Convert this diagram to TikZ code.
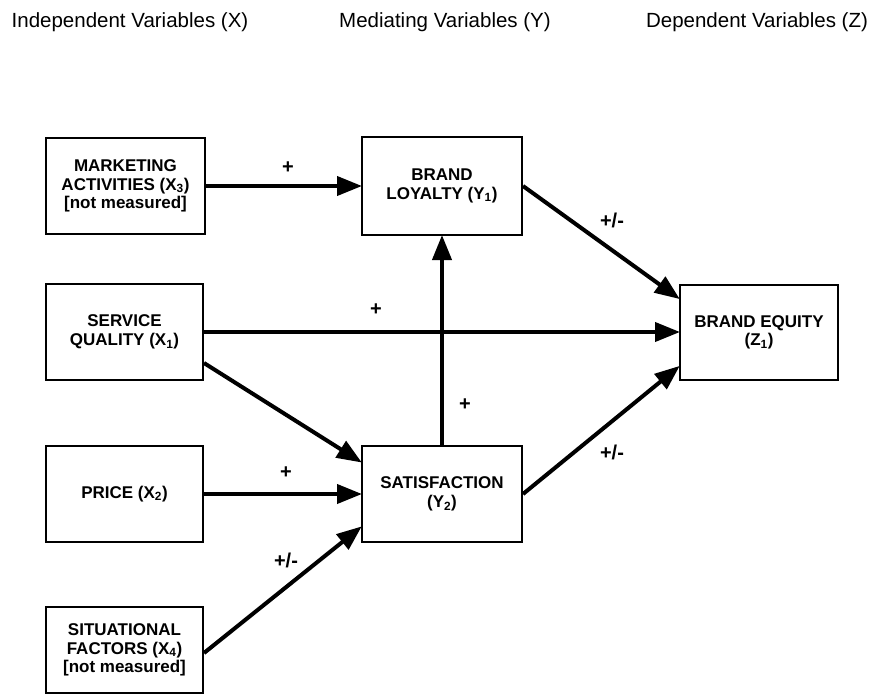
\documentclass[tikz,border=0pt]{standalone}
\usepackage{fontspec}
\setmainfont{Liberation Sans}
\usetikzlibrary{arrows.meta}
\tikzset{
  x=1pt,y=-1pt,
  varbox/.style={draw,line width=2pt,rectangle,align=center,inner sep=2pt,
    font=\fontsize{17}{18.5}\selectfont\bfseries},
  link/.style={line width=4pt,-{Triangle[length=25pt,width=19pt]},shorten >=-1pt},
  sign/.style={font=\fontsize{20}{22}\selectfont\bfseries},
  header/.style={font=\fontsize{20.5}{22}\selectfont}
}
\begin{document}
\begin{tikzpicture}
\useasboundingbox (0,0) rectangle (871,697);
\node[header] (h1) at (130,22) {Independent Variables (X)};
\node[header] (h2) at (445,22) {Mediating Variables (Y)};
\node[header] (h3) at (757,22) {Dependent Variables (Z)};

\node[varbox,minimum width=159pt,minimum height=96pt] (mk) at (125.5,186) {MARKETING\\ACTIVITIES (X\textsubscript{3})\\{[not measured]}};
\node[varbox,minimum width=157pt,minimum height=96pt] (sq) at (124.5,332) {SERVICE\\QUALITY (X\textsubscript{1})};
\node[varbox,minimum width=157pt,minimum height=96pt] (pr) at (124.5,494) {PRICE (X\textsubscript{2})};
\node[varbox,minimum width=157pt,minimum height=86pt] (sit) at (124.5,650) {SITUATIONAL\\FACTORS (X\textsubscript{4})\\{[not measured]}};
\node[varbox,minimum width=160pt,minimum height=98pt] (bl) at (442,186) {BRAND\\LOYALTY (Y\textsubscript{1})};
\node[varbox,minimum width=160pt,minimum height=96pt] (sat) at (442,494) {SATISFACTION\\(Y\textsubscript{2})};
\node[varbox,minimum width=158pt,minimum height=95pt] (be) at (759,332.5) {BRAND EQUITY\\(Z\textsubscript{1})};

\draw[link] (mk.east) -- (mk.east -| bl.west);
\draw[link] (sq.east) -- (sq.east -| be.west);
\draw[link] ([yshift=-31pt]sq.east) -- ([yshift=32pt]sat.west);
\draw[link] (pr.east) -- (pr.east -| sat.west);
\draw[link] ([yshift=-3pt]sit.east) -- ([yshift=-33pt]sat.west);
\draw[link] (sat.north) -- (bl.south);
\draw[link] (bl.east) -- ([yshift=34pt]be.west);
\draw[link] (sat.east) -- ([yshift=-34pt]be.west);

\node[sign] (s1) at (288,168) {+};
\node[sign] (s2) at (376,310) {+};
\node[sign] (s3) at (286,473) {+};
\node[sign] (s4) at (286,560) {+/-};
\node[sign] (s5) at (465,405) {+};
\node[sign] (s6) at (612,220) {+/-};
\node[sign] (s7) at (612,452) {+/-};
\end{tikzpicture}
\end{document}
